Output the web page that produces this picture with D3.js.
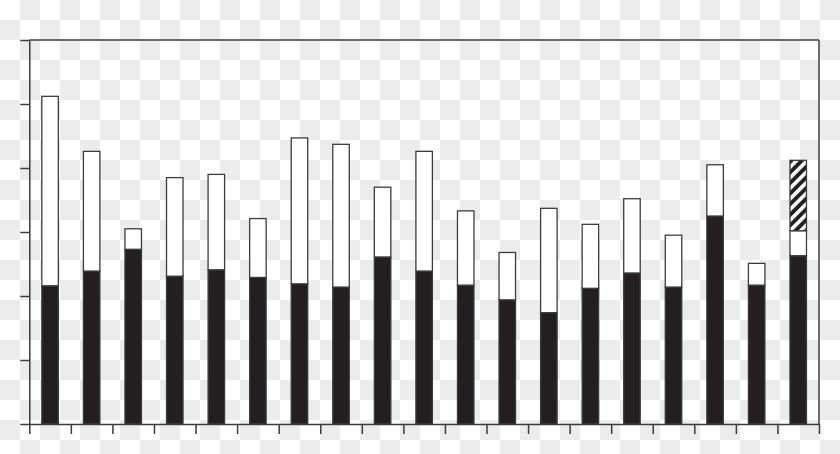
<!DOCTYPE html>
<html>
<head>
<meta charset="utf-8">
<script src="https://cdn.jsdelivr.net/npm/d3@7"></script>
<style>
  html, body { margin: 0; padding: 0; background: #fff; }
  svg { display: block; }
</style>
</head>
<body>
<svg id="chart" width="840" height="454"></svg>
<script>
// ---- data (y in axis-tick units) ----
const categories = ["1","2","3","4","5","6","7","8","9","10","11","12","13","14","15","16","17","18","19"];
const blackSeries = [2.16,2.39,2.73,2.31,2.41,2.29,2.19,2.14,2.61,2.39,2.17,1.94,1.74,2.12,2.36,2.14,3.25,2.17,2.63];
const whiteSeries = [2.96,1.87,0.32,1.54,1.49,0.92,2.28,2.23,1.09,1.87,1.16,0.74,1.63,1.00,1.16,0.81,0.80,0.34,0.39];
const hatchSeries = [0,0,0,0,0,0,0,0,0,0,0,0,0,0,0,0,0,0,1.10];
const yTicks = [0,1,2,3,4,5,6];

(function(){
const svg = d3.select("#chart");
const W = 840, H = 454;
const mLeft = 29.3, mRight = 819, mTop = 40, mBottom = 424;
const lineColor = "#3c3c3c";

const defs = svg.append("defs");
// checkerboard background (transparent-image look)
const chk = defs.append("pattern").attr("id","chk").attr("patternUnits","userSpaceOnUse")
  .attr("width",40).attr("height",40);
chk.append("rect").attr("width",40).attr("height",40).attr("fill","#ffffff");
chk.append("rect").attr("x",20).attr("y",0).attr("width",20).attr("height",20).attr("fill","#ececec");
chk.append("rect").attr("x",0).attr("y",20).attr("width",20).attr("height",20).attr("fill","#ececec");
// diagonal hatch
const hatch = defs.append("pattern").attr("id","hatch").attr("patternUnits","userSpaceOnUse")
  .attr("width",7.5).attr("height",7.5).attr("patternTransform","rotate(45)");
hatch.append("rect").attr("width",7.5).attr("height",7.5).attr("fill","#231f20");
hatch.append("rect").attr("width",3.6).attr("height",7.5).attr("fill","#ffffff");

svg.append("rect").attr("width",W).attr("height",H).attr("fill","url(#chk)");

const y = d3.scaleLinear().domain([0,6]).range([mBottom, mTop]);
const x = d3.scaleBand().domain(categories).range([mLeft, mRight]).paddingInner(0.603).paddingOuter(0.3015);
const xEdges = d3.scaleLinear().domain([0, categories.length]).range([mLeft, mRight]);

const rows = categories.map((c,i) => ({cat:c, black:blackSeries[i], white:whiteSeries[i], hatch:hatchSeries[i]}));
const stack = d3.stack().keys(["black","white","hatch"]);
const layers = stack(rows);
const fills = {black:"#231f20", white:"#ffffff", hatch:"url(#hatch)"};

const g = svg.append("g");
layers.forEach(layer => {
  g.append("g").selectAll("rect").data(layer.filter(d => d[1]-d[0] > 0)).join("rect")
    .attr("x", d => x(d.data.cat))
    .attr("width", x.bandwidth())
    .attr("y", d => y(d[1]))
    .attr("height", d => y(d[0]) - y(d[1]))
    .attr("fill", fills[layer.key])
    .attr("stroke", lineColor)
    .attr("stroke-width", 1.3);
});

// axes
const axL = svg.append("g").attr("transform",`translate(${mLeft},0)`)
  .call(d3.axisLeft(y).tickValues(yTicks).tickSize(9).tickSizeOuter(0).tickFormat(""));
const axB = svg.append("g").attr("transform",`translate(0,${mBottom})`)
  .call(d3.axisBottom(xEdges).tickValues(d3.range(categories.length+1)).tickSize(10).tickSizeOuter(0).tickFormat(""));
[axL, axB].forEach(a => {
  a.selectAll("path,line").attr("stroke", lineColor).attr("stroke-width", 1.5);
});
// frame top and right
svg.append("line").attr("x1",mLeft).attr("x2",mRight).attr("y1",y(6)).attr("y2",y(6))
  .attr("stroke",lineColor).attr("stroke-width",1.5);
svg.append("line").attr("x1",mRight).attr("x2",mRight).attr("y1",y(6)).attr("y2",y(0))
  .attr("stroke",lineColor).attr("stroke-width",1.5);
})();
</script>
</body>
</html>
